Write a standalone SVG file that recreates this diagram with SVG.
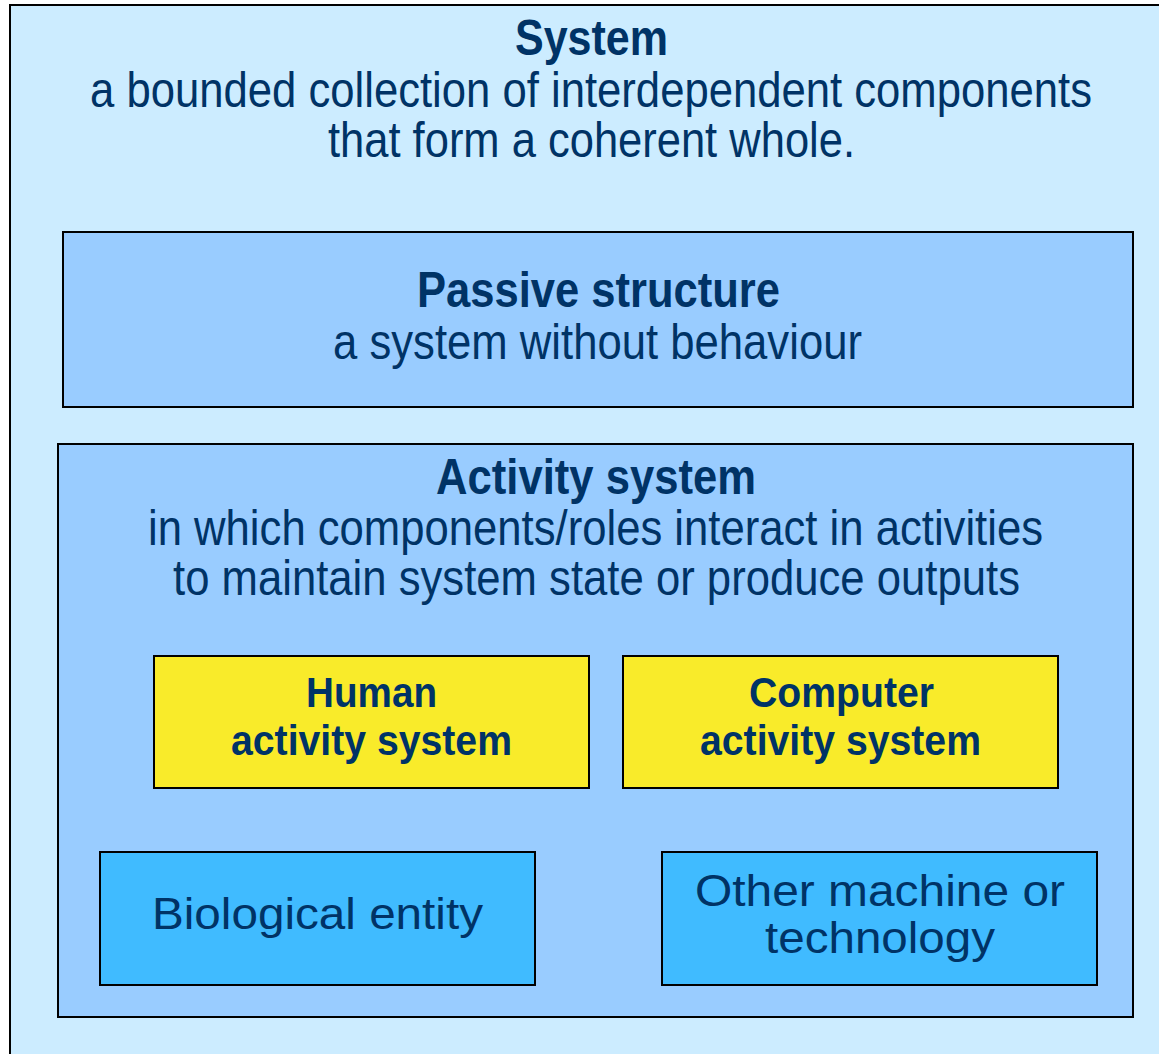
<svg xmlns="http://www.w3.org/2000/svg" width="1159" height="1054" viewBox="0 0 1159 1054">
  <style>
    .box { stroke: #000; stroke-width: 2; }
    .sys { fill: #CCECFF; }
    .mid { fill: #99CCFF; }
    .act { fill: #F9EB2A; }
    .ent { fill: #40BBFF; }
    text { font-family: "Liberation Sans", Arial, sans-serif; fill: #003366; text-anchor: middle; }
    .h { font-weight: bold; font-size: 50px; }
    .d { font-size: 50px; }
    .hb { font-weight: bold; font-size: 43px; }
    .e { font-size: 44px; }
  </style>

  <rect width="1159" height="1054" fill="#ffffff"/>

  <!-- outer system -->
  <g id="system">
    <rect class="box sys" x="10" y="5" width="1200" height="1100"/>
    <text class="h" x="591.5" y="55" textLength="153" lengthAdjust="spacingAndGlyphs">System</text>
    <text class="d" x="591" y="107" textLength="1002" lengthAdjust="spacingAndGlyphs">a bounded collection of interdependent components</text>
    <text class="d" x="591.5" y="157" textLength="527" lengthAdjust="spacingAndGlyphs">that form a coherent whole.</text>
  </g>

  <!-- passive structure -->
  <g id="passive-structure">
    <rect class="box mid" x="63" y="232" width="1070" height="175"/>
    <text class="h" x="598.5" y="307" textLength="363" lengthAdjust="spacingAndGlyphs">Passive structure</text>
    <text class="d" x="597.5" y="359" textLength="529" lengthAdjust="spacingAndGlyphs">a system without behaviour</text>
  </g>

  <!-- activity system -->
  <g id="activity-system">
    <rect class="box mid" x="58" y="444" width="1075" height="573"/>
    <text class="h" x="596" y="494" textLength="320" lengthAdjust="spacingAndGlyphs">Activity system</text>
    <text class="d" x="595.5" y="545" textLength="895" lengthAdjust="spacingAndGlyphs">in which components/roles interact in activities</text>
    <text class="d" x="596.5" y="595" textLength="847" lengthAdjust="spacingAndGlyphs">to maintain system state or produce outputs</text>
  </g>

  <g id="human-activity-system">
    <rect class="box act" x="154" y="656" width="435" height="132"/>
    <text class="hb" x="371.5" y="707" textLength="131" lengthAdjust="spacingAndGlyphs">Human</text>
    <text class="hb" x="371.5" y="755" textLength="281" lengthAdjust="spacingAndGlyphs">activity system</text>
  </g>

  <g id="computer-activity-system">
    <rect class="box act" x="623" y="656" width="435" height="132"/>
    <text class="hb" x="841.5" y="707" textLength="185" lengthAdjust="spacingAndGlyphs">Computer</text>
    <text class="hb" x="840.5" y="755" textLength="281" lengthAdjust="spacingAndGlyphs">activity system</text>
  </g>

  <g id="biological-entity">
    <rect class="box ent" x="100" y="852" width="435" height="133"/>
    <text class="e" x="317.5" y="929" textLength="331" lengthAdjust="spacingAndGlyphs">Biological entity</text>
  </g>

  <g id="other-machine">
    <rect class="box ent" x="662" y="852" width="435" height="133"/>
    <text class="e" x="880" y="906" textLength="370" lengthAdjust="spacingAndGlyphs">Other machine or</text>
    <text class="e" x="880" y="953" textLength="230" lengthAdjust="spacingAndGlyphs">technology</text>
  </g>
</svg>
